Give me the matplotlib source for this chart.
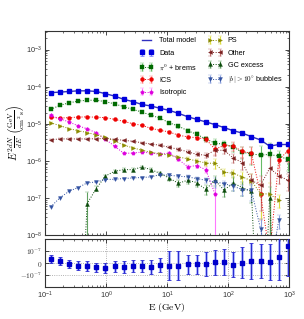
import matplotlib
matplotlib.use("Agg")
import matplotlib.pyplot as plt
import numpy as np

plt.rcParams['mathtext.fontset'] = 'cm'
plt.rcParams['font.family'] = ['Liberation Sans', 'DejaVu Sans']

# energy bin centres (GeV)
energy = [0.124, 0.175, 0.247, 0.348, 0.491, 0.693, 0.977, 1.38, 1.95, 2.75,
          3.87, 5.47, 7.71, 10.9, 15.4, 21.7, 30.6, 43.1, 60.8, 85.8,
          121, 171, 241, 340, 480, 677, 955]

# E^2 dN/dE (GeV cm^-2 s^-1)
data = [6.9e-5, 7.1e-5, 7.4e-5, 7.7e-5, 7.7e-5, 7.4e-5, 6.45e-5, 5.55e-5, 4.55e-5, 3.95e-5,
        3.3e-5, 3.0e-5, 2.6e-5, 2.29e-5, 1.9e-5, 1.55e-5, 1.31e-5, 1.12e-5, 9.5e-6, 7.9e-6,
        6.5e-6, 5.6e-6, 4.5e-6, 3.67e-6, 2.5e-6, 2.8e-6, 2.9e-6]
pi0 = [2.44e-5, 3.13e-5, 3.65e-5, 4.07e-5, 4.3e-5, 4.3e-5, 3.93e-5, 3.43e-5, 2.88e-5, 2.44e-5,
       2.06e-5, 1.7e-5, 1.4e-5, 1.06e-5, 8.6e-6, 6.5e-6, 5.2e-6, 3.9e-6, 3.0e-6, 2.8e-6,
       2.37e-6, 1.7e-6, 1.55e-6, 1.42e-6, 1.5e-6, 1.33e-6, 1.1e-6]
ics = [1.49e-5, 1.42e-5, 1.46e-5, 1.51e-5, 1.53e-5, 1.5e-5, 1.46e-5, 1.31e-5, 1.16e-5, 1.0e-5,
       9.06e-6, 7.5e-6, 6.65e-6, 6.0e-6, 4.9e-6, 4.45e-6, 4.2e-6, 3.9e-6, 2.05e-6, 2.6e-6,
       2.5e-6, 1.8e-6, 1.6e-6, 1.3e-7, 3e-9, 1.04e-6, 1.9e-6]
iso = [1.68e-5, 1.36e-5, 1.12e-5, 8.8e-6, 7.3e-6, 5.7e-6, 3.8e-6, 2.5e-6, 1.6e-6, 1.62e-6,
       1.73e-6, 1.62e-6, 1.5e-6, 1.62e-6, 1.1e-6, 6.9e-7, 7.5e-7, 5.8e-7, 1.3e-7]
ps = [1.06e-5, 8.9e-6, 7.4e-6, 6.5e-6, 5.8e-6, 5.0e-6, 4.3e-6, 3.47e-6, 2.63e-6, 2.25e-6,
      1.93e-6, 1.7e-6, 1.55e-6, 1.42e-6, 1.27e-6, 1.14e-6, 9.9e-7, 8.8e-7, 8.5e-7, 5.0e-7,
      4.6e-7, 3.7e-7, 2.9e-7, 1.32e-7, 1.27e-7, 8.7e-8]
other = [3.7e-6, 3.9e-6, 3.9e-6, 3.9e-6, 3.9e-6, 3.95e-6, 4.0e-6, 3.8e-6, 3.58e-6, 3.37e-6,
         3.07e-6, 2.85e-6, 2.63e-6, 2.32e-6, 2.05e-6, 1.76e-6, 1.5e-6, 1.42e-6, 1.93e-6, 1.93e-6,
         1.2e-6, 9e-7, 3.0e-7, 2.2e-7, 6.3e-7, 4e-7, 3e-7]
gce = [1e-12, 7.1e-8, 1.8e-7, 3.9e-7, 5.25e-7, 5.8e-7, 5.8e-7, 6.85e-7, 5.8e-7, 4.6e-7,
       3.4e-7, 2.5e-7, 3.0e-7, 2.6e-7, 1.7e-7, 3.0e-7, 1.62e-7, 2.55e-7, 1.9e-7, 1.5e-7,
       1e-12, 1.0e-7, 1e-12]
gce_energy = energy[3:26]
bub = [5.8e-8, 1.0e-7, 1.52e-7, 1.91e-7, 2.55e-7, 2.71e-7, 3.14e-7, 3.2e-7, 3.34e-7, 3.47e-7,
       3.56e-7, 3.7e-7, 4.28e-7, 4.1e-7, 3.86e-7, 3.7e-7, 3.34e-7, 3.0e-7, 2.71e-7, 2.45e-7,
       2.07e-7, 1.69e-7, 1.62e-7, 1.5e-8, 1e-9, 2.5e-8]

# relative errors
data_err = [0.02] * 20 + [0.03, 0.03, 0.04, 0.05, 0.07, 0.08, 0.1]
comp_err = [0.03] * 12 + [0.05, 0.06, 0.08, 0.1, 0.12, 0.15, 0.3, 0.2, 0.25, 0.35, 0.5, 0.8, 1.0, 0.4, 0.5]
iso_err = [0.03] * 12 + [0.05, 0.06, 0.1, 0.12, 0.15, 0.2, 1.0]
gce_err = [0.0, 1.0, 0.15, 0.1, 0.08, 0.08, 0.08, 0.08, 0.1, 0.12,
           0.15, 0.2, 0.2, 0.25, 0.3, 0.3, 0.35, 0.4, 0.4, 0.5, 1.0, 1.0, 1.0]

# residual (data - model), units of 1e-7
resid = [0.31, 0.17, -0.06, -0.22, -0.25, -0.36, -0.39, -0.28, -0.31, -0.28,
         -0.28, -0.33, -0.17, -0.22, -0.22, -0.11, -0.11, -0.08, 0.06, 0.08,
         -0.14, 0.03, 0.14, 0.14, 0.08, 0.47, 1.42]
resid_err = [0.32, 0.32, 0.33, 0.35, 0.38, 0.4, 0.42, 0.45, 0.5, 0.5,
             0.5, 0.55, 0.6, 1.2, 1.2, 0.8, 0.8, 1.0, 1.05, 1.1,
             1.05, 1.3, 1.5, 1.4, 1.5, 1.9, 2.5]

E = np.array(energy)
scale = 1e-7
model = np.array(data) - np.array(resid) * scale

fig = plt.figure(figsize=(3.04, 3.19), dpi=100)
ax = fig.add_axes([0.148, 0.263, 0.803, 0.640])
axr = fig.add_axes([0.148, 0.100, 0.803, 0.151])

ax.plot(E, model, '-', color='#3030c0', lw=1.0, label='Total model', zorder=5)

def comp(x, y, err, fmt, c, light, label, z=3):
    y = np.array(y)
    x = np.array(x)[:len(y)]
    e = y * np.array(err[:len(y)])
    ax.errorbar(x, y, yerr=e, fmt=fmt, color=c, ecolor=light, ms=2.8, lw=0.7,
                elinewidth=0.8, capsize=1.2, capthick=0.6, mew=0.3, mec=c,
                label=label, zorder=z)

ax.errorbar(E, data, yerr=np.array(data) * np.array(data_err), fmt='s', color='#0000dd',
            ecolor='#8888ff', ms=3.0, elinewidth=0.8, capsize=1.2, capthick=0.6,
            label='Data', zorder=6)
comp(E, pi0, comp_err, 's:', '#006a00', '#66bb66', r'$\pi^0$ + brems')
comp(E, ics, comp_err, 'o:', '#ee0000', '#ff7777', 'ICS')
comp(E, iso, iso_err, 'p:', '#dd00dd', '#ff77ff', 'Isotropic')
comp(E, ps, comp_err, '>:', '#8a8a00', '#dddd44', 'PS')
comp(E, other, comp_err, '<:', '#7a2020', '#c07070', 'Other')
comp(gce_energy, gce, gce_err, '^:', '#0a4a0a', '#60a060', 'GC excess')
comp(E, bub, comp_err, 'v:', '#3050a0', '#8aa0dd', r'$|b| > 10^{\circ}$ bubbles')

ax.set_xscale('log')
ax.set_yscale('log')
ax.set_xlim(0.1, 1000)
ax.set_ylim(1e-8, 10 ** -2.5)
ax.set_xticklabels([])
ax.set_ylabel(r'$E^2\frac{dN}{dE}\ \left(\frac{\rm GeV}{\rm cm^2\,s}\right)$', fontsize=7.5, labelpad=0)

leg = ax.legend(loc='upper right', ncol=2, fontsize=5.2, frameon=False, numpoints=2,
                handlelength=1.9, columnspacing=1.55, labelspacing=0.72,
                borderaxespad=0.5, handletextpad=0.8)

axr.errorbar(E, np.array(resid) * scale, yerr=np.array(resid_err) * scale, fmt='none',
             ecolor='#8899ff', elinewidth=2.2, alpha=0.6, zorder=2)
axr.errorbar(E, np.array(resid) * scale, yerr=np.array(resid_err) * scale, fmt='s',
             color='#0000cc', ecolor='#2a2ad0', ms=3.0, elinewidth=0.8,
             capsize=1.3, capthick=0.6, zorder=3)
axr.set_xscale('log')
axr.set_xlim(0.1, 1000)
axr.set_ylim(-2e-7, 2e-7)
axr.set_yticks([-1e-7, 0, 1e-7])
axr.set_yticklabels([r'$-10^{-7}$', r'$0$', r'$10^{-7}$'])
axr.grid(True, which='major', ls=':', lw=0.6, color='#999999')
axr.set_xlabel(r'$\mathrm{E\ (GeV)}$', fontsize=7, labelpad=0)

for a in (ax, axr):
    a.tick_params(which='both', direction='in', top=True, right=True, labelsize=5.3,
                  labelcolor='#333333', pad=2)
    a.tick_params(which='major', length=3, width=0.5)
    a.tick_params(which='minor', length=1.6, width=0.4)
    for s in a.spines.values():
        s.set_linewidth(0.8)
        s.set_color('#333333')

fig.savefig('out.png', dpi=100)
